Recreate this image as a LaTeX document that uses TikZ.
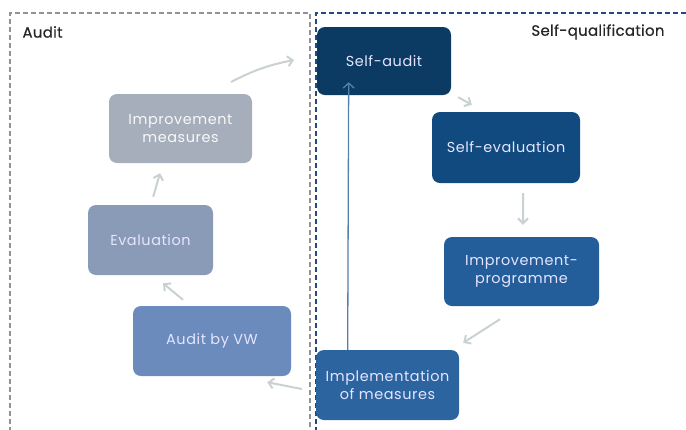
\documentclass[tikz,border=0pt]{standalone}
\usepackage{fontspec}
\setmainfont{Poppins}
\newfontfamily\stagefont[LetterSpace=4]{Poppins}
\newfontfamily\headfont[LetterSpace=2,FakeBold=0.6]{Poppins}
\usetikzlibrary{arrows.meta}
\definecolor{navyA}{HTML}{0B3A63}
\definecolor{navyB}{HTML}{114A7E}
\definecolor{blueC}{HTML}{235E9A}
\definecolor{blueD}{HTML}{2C64A0}
\definecolor{blueE}{HTML}{6A8BBB}
\definecolor{greyF}{HTML}{8A9BB8}
\definecolor{greyG}{HTML}{A6ADBB}
\definecolor{flow}{HTML}{C9D1D3}
\definecolor{frameGrey}{HTML}{8F9397}
\definecolor{frameBlue}{HTML}{1F4A82}
\definecolor{backlink}{HTML}{5580AE}
\begin{document}
\begin{tikzpicture}[x=1bp,y=-1bp,
  stage/.style={rounded corners=8bp, inner sep=0pt, align=center,
    text=white!90!blue, font=\stagefont\fontsize{14.5}{18}\selectfont},
  flowarrow/.style={draw=flow, line width=2bp,
    -{Straight Barb[length=5bp,width=10bp,line width=2bp]}},
  frame/.style={line width=2.6bp, dash pattern=on 5bp off 3bp},
  heading/.style={font=\headfont\fontsize{15}{18}\selectfont, text=black!85}]
\useasboundingbox (0,0) rectangle (686,429);

% dashed frames of the two areas
\draw[frame, draw=frameGrey] (10,440) -- (10,13) -- (310,13) -- (310,440);
\draw[frame, draw=frameBlue] (316,440) -- (316,13) -- (700,13);

\node[heading, anchor=west] (audit) at (19,32) {Audit};
\node[heading, anchor=east] (selfq) at (668,32) {Self-qualification};

% stages
\node[stage, fill=navyA, minimum width=134bp, minimum height=68bp] (sa) at (384,61) {Self-audit};
\node[stage, fill=navyB, minimum width=148bp, minimum height=71bp] (se) at (506,147.5) {Self-evaluation};
\node[stage, fill=blueC, minimum width=155bp, minimum height=69bp] (ip) at (521.5,271.5) {Improvement-\\programme};
\node[stage, fill=blueD, minimum width=143bp, minimum height=70bp] (im) at (387.5,385) {Implementation\\of measures};
\node[stage, fill=blueE, minimum width=158bp, minimum height=70bp] (avw) at (212,341) {Audit by VW};
\node[stage, fill=greyF, minimum width=125bp, minimum height=70bp] (ev) at (150.5,240) {Evaluation};
\node[stage, fill=greyG, minimum width=143bp, minimum height=69bp, text=white!95!gray] (ims) at (180.5,128.5) {Improvement\\measures};

% flow between the stages
\coordinate (outA) at (231,82);
\coordinate (outB) at (294,60);
\draw[flowarrow] (outA) to[bend left=8] (outB);
\draw[flowarrow] ([shift={(7,2)}]sa.south east) -- ([shift={(40,-7)}]se.north west);
\draw[flowarrow] ([shift={(17,10)}]se.south) -- ([shift={(1.5,-12)}]ip.north);
\draw[flowarrow] ([shift={(-21.5,13)}]ip.south) -- ([shift={(4,-7)}]im.north east);
\draw[flowarrow] ([shift={(-14,4)}]im.west) -- ([shift={(-24,6)}]avw.south east);
\draw[flowarrow] ([shift={(-29,-6)}]avw.north) -- ([shift={(12.5,8)}]ev.south);
\draw[flowarrow] ([shift={(-60,-8)}]ev.north east) -- ([shift={(-20.5,10)}]ims.south);

% return path to the self-audit
\draw[draw=backlink, line width=1.3bp, -{Straight Barb[length=5bp,width=11bp,line width=1.3bp]}]
  ([xshift=32]im.north west) -- ([xshift=32,yshift=13]sa.south west);
\end{tikzpicture}
\end{document}
